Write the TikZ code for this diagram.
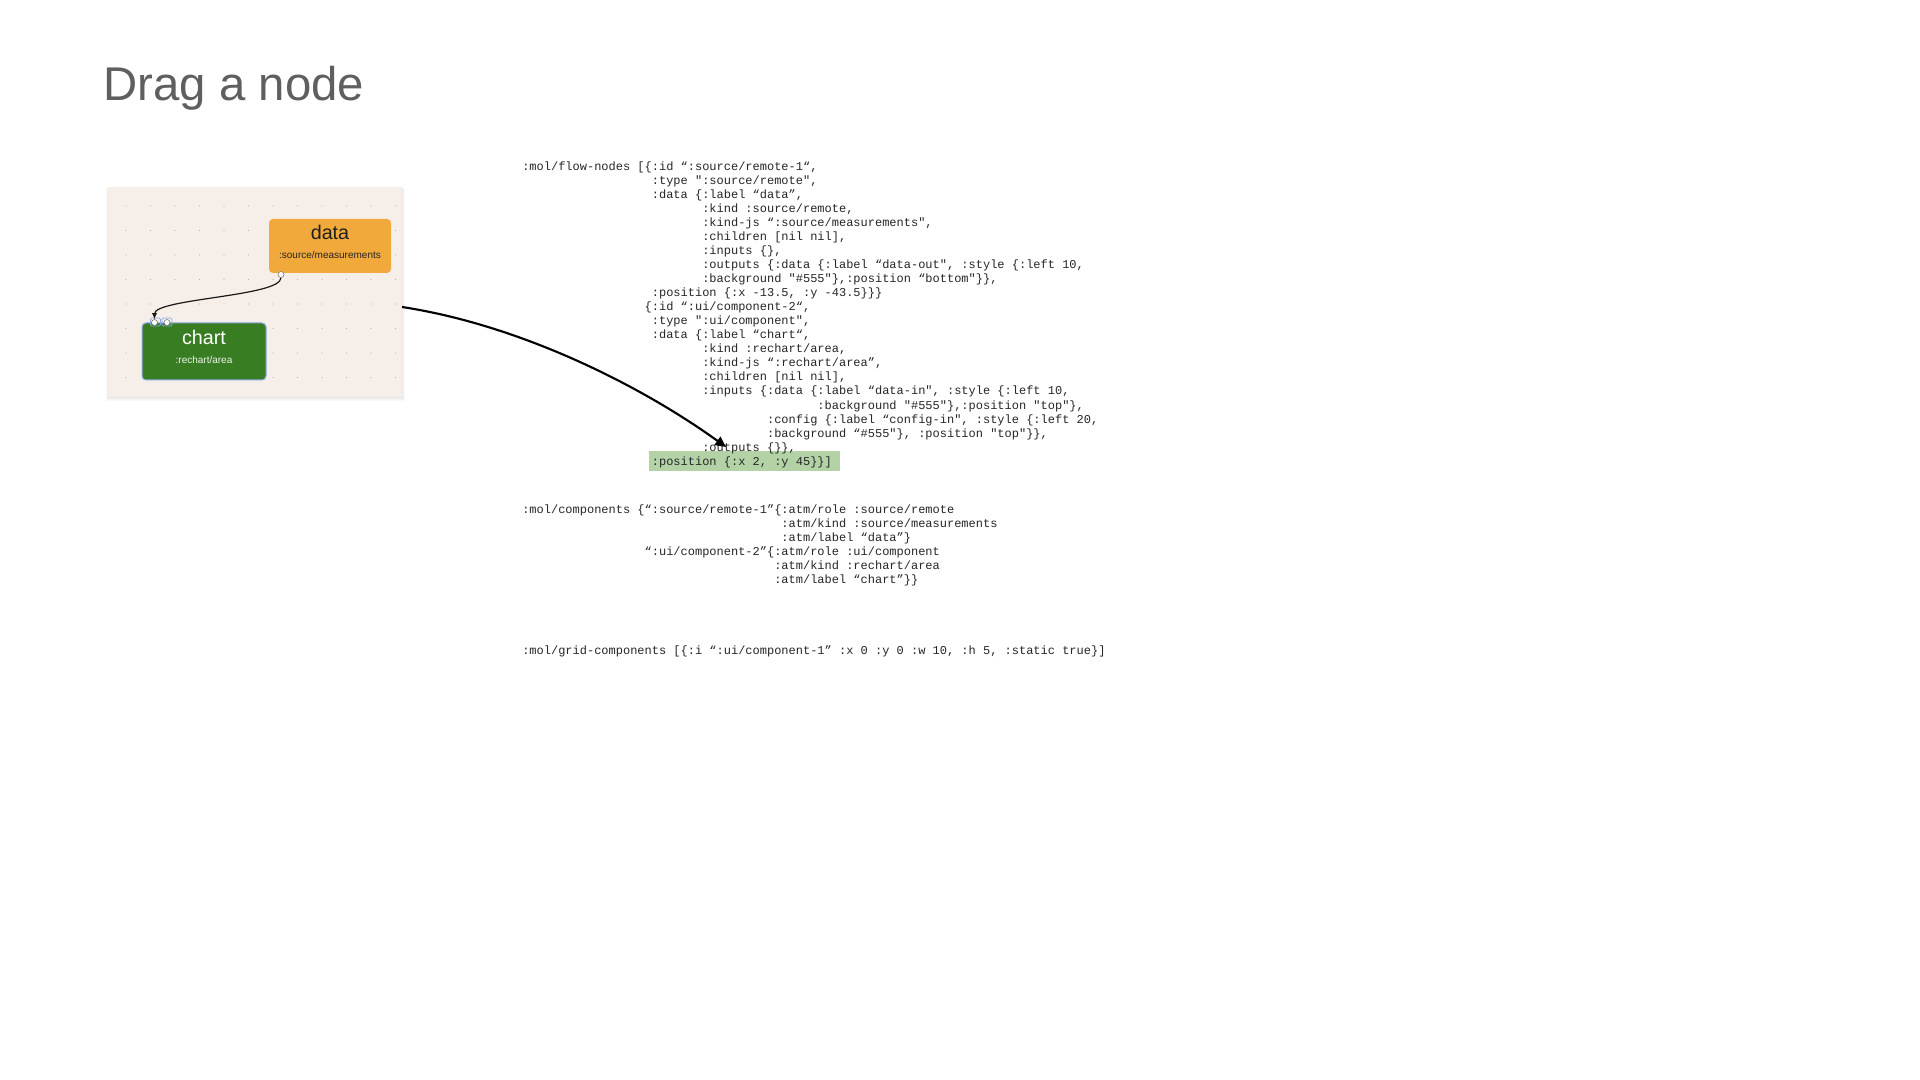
\documentclass[tikz,border=0pt]{standalone}
\usepackage{fontspec}
\setmainfont{Liberation Sans}
\setmonofont{Liberation Mono}
\usetikzlibrary{arrows.meta}

\definecolor{titlegray}{HTML}{5F5F5F}
\definecolor{panelbg}{HTML}{F6EEE9}
\definecolor{dotgray}{HTML}{BDB5B0}
\definecolor{dataorange}{HTML}{F2A93B}
\definecolor{chartgreen}{HTML}{387D22}
\definecolor{selblue}{HTML}{8CA9E6}
\definecolor{posgreen}{HTML}{B3D3A7}
\definecolor{codeblack}{HTML}{262626}

\newcommand{\codefont}{\ttfamily\fontsize{9}{10}\selectfont}

\tikzset{
  codeline/.style={anchor=base west, inner sep=0pt, font=\codefont, text=codeblack},
  boxtitle/.style={anchor=base, inner sep=0pt, font=\fontsize{14.8}{16}\selectfont},
  boxkind/.style={anchor=base, inner sep=0pt, font=\fontsize{7.5}{9}\selectfont},
  handle/.style={circle, draw=black!55, fill=white, line width=0.4pt, inner sep=0pt, minimum size=4.5pt},
}

\begin{document}
\begin{tikzpicture}[x=0.75pt,y=0.75pt,yscale=-1,xscale=1]
\useasboundingbox (0,0) rectangle (1920,1080);
\fill [white] (0,0) rectangle (1920,1080);

% Text Node
\draw (103.4,101) node (title) [anchor=base west, inner sep=0pt, font=\fontsize{35.5}{40}\selectfont, text=titlegray] {Drag a node};

%Shape: Shadow
\foreach \s in {1,...,4}
  \fill [black, opacity=0.025] (108-\s*0.5,187+\s*0.5) rectangle (402+\s*0.7,397+\s*1.1);
%Shape: Rectangle [canvas]
\draw (255,292) node (panel) [fill=panelbg, inner sep=0pt, minimum width=220.5pt, minimum height=157.5pt] {};
\foreach \gx in {0,...,11}
  \foreach \gy in {0,...,7}
    \fill [dotgray] (126+\gx*24.5,206+\gy*24.5) circle (0.55pt);

%Flowchart: Process [data]
\draw [fill=dataorange, draw=none, rounded corners=3pt] (269,219) rectangle (391,273);
% Text Node
\draw (330,240) node (datatitle) [boxtitle, text=black!88] {data};
% Text Node
\draw (330,259) node (datakind) [boxkind, text=black!85] {:source/measurements};

%Flowchart: Process [chart]
\draw [fill=chartgreen, draw=selblue, line width=0.75pt, rounded corners=3pt] (142,323) rectangle (266,380);
% Text Node
\draw (204,345) node (charttitle) [boxtitle, text=white] {chart};
% Text Node
\draw (204,364) node (chartkind) [boxkind, text=white!92!chartgreen] {:rechart/area};

%Handles
\draw [selblue, line width=0.6pt, rounded corners=1pt] (150.5,318) rectangle (160.5,326);
\draw [selblue, line width=0.6pt, rounded corners=1pt] (162,318) rectangle (172,326);
\draw (281,274.5) node (dataout) [handle] {};
\draw (154.5,322.5) node (chartin) [handle] {};
\draw (167,322.5) node (configin) [handle] {};

%Curve Lines [edge]
\draw [line width=0.9pt, black!90, -{Latex[length=4.5pt,width=4pt]}] (dataout) .. controls +(0,22) and +(0,-24) .. (chartin);

%Shape: Rectangle [highlight]
\fill [posgreen] (649,451) rectangle (840,471);

% Text Node
\draw (522,171) node (fn0) [codeline] {:mol/flow-nodes [\{:id “:source/remote-1“,};
\draw (651.6,185) node (fn1) [codeline] {:type ":source/remote",};
\draw (651.6,199) node (fn2) [codeline] {:data \{:label “data”,};
\draw (702,213) node (fn3) [codeline] {:kind :source/remote,};
\draw (702,227) node (fn4) [codeline] {:kind-js “:source/measurements",};
\draw (702,241) node (fn5) [codeline] {:children [nil nil],};
\draw (702,255) node (fn6) [codeline] {:inputs \{\},};
\draw (702,269) node (fn7) [codeline] {:outputs \{:data \{:label “data-out", :style \{:left 10,};
\draw (702,283) node (fn8) [codeline] {:background "\#555"\},:position “bottom"\}\},};
\draw (651.6,297) node (fn9) [codeline] {:position \{:x -13.5, :y -43.5\}\}\}};
\draw (644.4,311) node (fn10) [codeline] {\{:id “:ui/component-2“,};
\draw (651.6,325) node (fn11) [codeline] {:type ":ui/component",};
\draw (651.6,339) node (fn12) [codeline] {:data \{:label “chart“,};
\draw (702,353) node (fn13) [codeline] {:kind :rechart/area,};
\draw (702,367) node (fn14) [codeline] {:kind-js “:rechart/area”,};
\draw (702,381) node (fn15) [codeline] {:children [nil nil],};
\draw (702,395) node (fn16) [codeline] {:inputs \{:data \{:label “data-in", :style \{:left 10,};
\draw (817.2,409) node (fn17) [codeline] {:background "\#555"\},:position "top"\},};
\draw (766.8,423) node (fn18) [codeline] {:config \{:label “config-in", :style \{:left 20,};
\draw (766.8,437) node (fn19) [codeline] {:background “\#555"\}, :position "top"\}\},};
\draw (702,451) node (fn20) [codeline] {:outputs \{\}\},};
\draw (651.6,465) node (fn21) [codeline] {:position \{:x 2, :y 45\}\}]};

% Text Node
\draw (522,513.5) node (mc0) [codeline] {:mol/components \{“:source/remote-1”\{:atm/role :source/remote};
\draw (781.2,527.5) node (mc1) [codeline] {:atm/kind :source/measurements};
\draw (781.2,541.5) node (mc2) [codeline] {:atm/label “data”\}};
\draw (644.4,555.5) node (mc3) [codeline] {“:ui/component-2”\{:atm/role :ui/component};
\draw (774,569.5) node (mc4) [codeline] {:atm/kind :rechart/area};
\draw (774,583.5) node (mc5) [codeline] {:atm/label “chart”\}\}};

% Text Node
\draw (522,654.5) node (gc0) [codeline] {:mol/grid-components [\{:i “:ui/component-1” :x 0 :y 0 :w 10, :h 5, :static true\}]};

%Curve Lines [drag]
\coordinate (grab) at (402,307);
\coordinate (drop) at (726,447);
\draw [line width=1.6pt, -{Triangle[length=8pt,width=7.5pt]}] (grab) .. controls (520,325) and (640,385) .. (drop);

\end{tikzpicture}
\end{document}
